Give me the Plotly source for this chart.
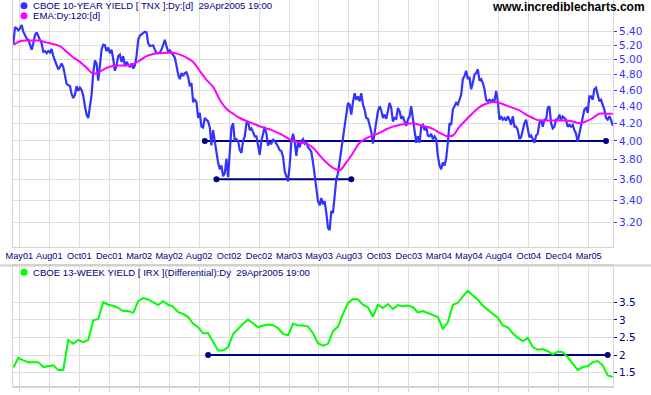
import plotly.graph_objects as go

# ---------------- data ----------------
# CBOE 10-year yield (TNX), one value per ~1.67 px step (every session-ish), in three stretches
tnx_part1 = [5.22, 5.47, 5.45, 5.42, 5.45, 5.5, 5.4, 5.35, 5.3, 5.28, 5.2, 5.14, 5.23, 5.35, 5.39, 5.33,
             5.28, 5.23, 5.11, 5.12, 5.09, 5.12, 5.1, 5.15, 5.05, 4.98, 4.92, 4.87, 4.9, 4.95, 4.9, 4.78,
             4.68, 4.66, 4.65, 4.55, 4.5, 4.54, 4.65, 4.59, 4.63, 4.6, 4.53, 4.4, 4.3, 4.26, 4.38, 4.54,
             4.82, 4.99, 4.95, 4.72, 4.92, 5.14, 5.21, 5.2, 5.12, 5.17, 5.09, 5.14, 5.01, 4.85, 4.92, 5.05,
             5.07, 4.97, 5.05, 4.92, 4.97, 4.93, 4.9, 4.95, 4.88, 4.92, 5.05, 5.28, 5.34, 5.36, 5.38, 5.4,
             5.39, 5.23, 5.19, 5.2, 5.2, 5.14, 5.09, 5.09, 5.1, 5.14, 5.23, 5.28, 5.19, 5.11, 5.13, 5.1,
             5.06, 5.03, 4.92, 4.8, 4.74, 4.82, 4.78, 4.82, 4.83, 4.77, 4.65, 4.69, 4.45, 4.48, 4.45, 4.26,
             4.32, 4.16, 4.15, 4.26, 4.24, 4.22, 4.15]
tnx_part2 = [3.95, 4.12, 4.02, 3.88, 3.77, 3.7, 3.74, 3.63, 3.66, 3.81, 3.62, 3.85, 4.15, 4.2, 4.0, 4.02,
             4.0, 3.9, 3.87, 4.0, 4.05, 4.2, 4.22, 4.12, 4.14, 4.1, 4.05, 4.05, 3.95, 3.85, 4.0, 4.1,
             4.16, 4.08, 3.95, 3.98, 3.97, 4.02, 4.0, 3.97, 3.94, 3.9, 3.89, 3.83, 3.68, 3.63, 3.58, 3.74,
             3.99, 4.08, 3.99, 3.84, 3.99, 3.93, 4.0, 4.02, 3.97, 3.99, 3.93, 3.91, 3.88, 3.77, 3.63, 3.53,
             3.39, 3.35, 3.42, 3.36, 3.39, 3.28, 3.15, 3.13, 3.3, 3.28, 3.47, 3.6, 3.66, 3.78, 3.92, 4.05,
             4.2, 4.32, 4.44, 4.42, 4.3, 4.45, 4.56, 4.48, 4.52, 4.46, 4.56, 4.42, 4.36, 4.26, 4.25, 4.18,
             4.1, 3.97, 4.08, 4.22, 4.34, 4.4, 4.35, 4.26, 4.3, 4.25, 4.33, 4.44, 4.38, 4.22, 4.26, 4.25,
             4.38, 4.34, 4.25, 4.28, 4.22, 4.17, 4.24]
tnx_part3 = [4.28, 4.4, 4.24, 4.08, 3.98, 4.05, 3.98, 4.16, 4.18, 4.12, 4.16, 4.06, 4.05, 4.08, 4.02, 4.05,
             4.02, 3.84, 3.74, 3.7, 3.77, 3.74, 3.81, 3.98, 4.2, 4.18, 4.36, 4.4, 4.44, 4.42, 4.48, 4.54,
             4.74, 4.78, 4.85, 4.74, 4.77, 4.61, 4.69, 4.8, 4.82, 4.87, 4.72, 4.74, 4.69, 4.61, 4.48, 4.46,
             4.48, 4.46, 4.48, 4.46, 4.59, 4.46, 4.24, 4.28, 4.24, 4.26, 4.23, 4.28, 4.24, 4.18, 4.28, 4.16,
             4.16, 4.12, 4.02, 4.04, 4.12, 4.2, 4.24, 4.12, 4.04, 4.06, 4.02, 3.98, 4.06, 4.08, 4.2, 4.24,
             4.16, 4.24, 4.24, 4.38, 4.4, 4.2, 4.14, 4.16, 4.24, 4.24, 4.3, 4.24, 4.28, 4.26, 4.24, 4.16,
             4.18, 4.16, 4.18, 4.12, 4.08, 3.99, 4.08, 4.16, 4.28, 4.36, 4.38, 4.32, 4.52, 4.52, 4.48, 4.61,
             4.63, 4.56, 4.46, 4.48, 4.42, 4.36, 4.26, 4.24, 4.28, 4.24, 4.17]
tnx = tnx_part1 + tnx_part2 + tnx_part3

# EMA:Dy:120, one value every EMA_STEP sessions
EMA_STEP = 4
ema120 = [5.21, 5.26, 5.27, 5.27, 5.27, 5.24, 5.22, 5.19, 5.11, 5.03, 4.97, 4.89, 4.81, 4.84, 4.89, 4.915,
          4.92, 4.92, 4.94, 4.99, 5.05, 5.08, 5.09, 5.095, 5.095, 5.07, 5.03, 4.97, 4.85, 4.73,
          4.64, 4.48, 4.37, 4.31, 4.26, 4.225, 4.195, 4.165, 4.14, 4.115, 4.08, 4.04, 4.0, 3.985, 3.97,
          3.925, 3.845, 3.77, 3.715, 3.69, 3.77, 3.87, 3.98, 4.03, 4.06, 4.09, 4.13, 4.16, 4.18, 4.19,
          4.2, 4.18, 4.16, 4.135, 4.09, 4.055, 4.06, 4.16, 4.24, 4.32, 4.39, 4.43, 4.45, 4.44, 4.41,
          4.38, 4.35, 4.3, 4.26, 4.23, 4.23, 4.23, 4.23, 4.23, 4.22, 4.2, 4.22, 4.26, 4.31, 4.31, 4.31]

# CBOE 13-week yield (IRX), one value every IRX_STEP sessions
IRX_STEP = 3
irx = [1.65, 1.92, 1.85, 1.80, 1.80, 1.80, 1.66, 1.68, 1.71, 1.58, 1.58, 2.43, 2.32, 2.43, 2.37, 2.43,
       2.98, 3.03, 3.50, 3.43, 3.40, 3.34, 3.25, 3.25, 3.20, 3.53, 3.62, 3.58, 3.51, 3.42, 3.53, 3.43,
       3.38, 3.22, 3.17, 3.08, 2.89, 2.79, 2.62, 2.62, 2.38, 2.13, 2.13, 2.23, 2.60, 2.75, 2.89, 3.01,
       2.91, 2.79, 2.84, 2.87, 2.85, 2.77, 2.60, 2.56, 2.89, 2.84, 2.84, 2.81, 2.62, 2.34, 2.27, 2.32,
       2.68, 2.81, 3.17, 3.48, 3.59, 3.58, 3.43, 3.36, 3.09, 3.43, 3.34, 3.45, 3.31, 3.42, 3.38, 3.41,
       3.36, 3.21, 3.25, 3.20, 3.14, 3.08, 2.75, 2.93, 3.43, 3.48, 3.67, 3.83, 3.69, 3.57, 3.41, 3.28,
       3.17, 3.06, 2.84, 2.79, 2.62, 2.49, 2.40, 2.49, 2.23, 2.15, 2.17, 2.11, 2.02, 2.10, 2.08, 1.94,
       1.77, 1.58, 1.66, 1.68, 1.80, 1.83, 1.71, 1.42, 1.38]

# trend lines (session index of end points, level)
tnx_line1_x = [115, 356]
tnx_line1_y = [4.00, 4.00]
tnx_line2_x = [122, 203]
tnx_line2_y = [3.60, 3.60]
irx_line_x = [117, 357]
irx_line_y = [2.00, 2.00]

month_labels = ["May01", "Aug01", "Oct01", "Dec01", "Mar02", "May02", "Aug02", "Oct02", "Dec02", "Mar03",
                "May03", "Aug03", "Oct03", "Dec03", "Mar04", "May04", "Aug04", "Oct04", "Dec04", "Mar05"]
tnx_ticks = [3.2, 3.4, 3.6, 3.8, 4.0, 4.2, 4.4, 4.6, 4.8, 5.0, 5.2, 5.4]
tnx_ticktext = ["3.20", "3.40", "3.60", "3.80", "4.00", "4.20", "4.40", "4.60", "4.80", "5.00", "5.20", "5.40"]
irx_ticks = [1.5, 2, 2.5, 3, 3.5]
irx_ticktext = ["1.5", "2", "2.5", "3", "3.5"]

# ---------------- figure ----------------
W, H = 651, 395
NAVY = "#000080"
GRID = "#dedede"
FONT = "Liberation Sans, Arial, sans-serif"
YFONT = "DejaVu Sans, Verdana, sans-serif"

n = len(tnx)
x_tnx = list(range(n))
x_ema = [i * EMA_STEP for i in range(len(ema120))]
x_irx = [i * IRX_STEP for i in range(len(irx))]
month_pos = [3.6 + 18 * k for k in range(len(month_labels))]

def px(x):
    return x / W

def py(y):
    return 1 - y / H

fig = go.Figure()

fig.add_trace(go.Scatter(x=tnx_line1_x, y=tnx_line1_y, mode="lines+markers",
                         line=dict(color=NAVY, width=2), marker=dict(color=NAVY, size=6),
                         xaxis="x", yaxis="y"))
fig.add_trace(go.Scatter(x=tnx_line2_x, y=tnx_line2_y, mode="lines+markers",
                         line=dict(color=NAVY, width=2), marker=dict(color=NAVY, size=6),
                         xaxis="x", yaxis="y"))
fig.add_trace(go.Scatter(x=x_tnx, y=tnx, mode="lines", line=dict(color="#3333ff", width=2.2),
                         xaxis="x", yaxis="y"))
fig.add_trace(go.Scatter(x=x_ema, y=ema120, mode="lines", line=dict(color="#ff00ff", width=2),
                         line_shape="spline", xaxis="x", yaxis="y"))
fig.add_trace(go.Scatter(x=irx_line_x, y=irx_line_y, mode="lines+markers",
                         line=dict(color=NAVY, width=2), marker=dict(color=NAVY, size=6),
                         xaxis="x2", yaxis="y2"))
fig.add_trace(go.Scatter(x=x_irx, y=irx, mode="lines", line=dict(color="#00ff00", width=2),
                         xaxis="x2", yaxis="y2"))

xr = [-0.2, n - 0.8]
dom_x = [px(13), px(613)]

fig.update_layout(
    width=W, height=H,
    margin=dict(l=0, r=0, t=0, b=0),
    paper_bgcolor="white", plot_bgcolor="white",
    showlegend=False,
    hovermode=False,
    font=dict(family=FONT, size=10, color=NAVY),
    xaxis=dict(domain=dom_x, range=xr, anchor="y", tickmode="array", tickvals=month_pos,
               ticktext=month_labels, tickangle=0, showgrid=True, gridcolor=GRID, gridwidth=1,
               showline=True, linecolor="#d4d4d4", linewidth=1, mirror=True,
               ticks="", tickfont=dict(family=FONT, size=9.2, color=NAVY), zeroline=False,
               automargin=False),
    yaxis=dict(domain=[py(247), 1], type="log", range=[0.47547, 0.77022], side="right",
               anchor="x", tickmode="array", tickvals=tnx_ticks, ticktext=tnx_ticktext,
               showgrid=True, gridcolor=GRID, gridwidth=1, showline=True, linecolor="#d4d4d4",
               mirror=True, ticks="outside", ticklen=3, tickcolor="#3333ff",
               tickfont=dict(family=YFONT, size=10.5, color="#3333ff"), zeroline=False,
               automargin=False),
    xaxis2=dict(domain=dom_x, range=xr, anchor="y2", tickmode="array", tickvals=month_pos,
                showticklabels=False, showgrid=True, gridcolor=GRID, gridwidth=1,
                showline=True, linecolor="#d4d4d4", linewidth=2, mirror=True,
                ticks="outside", ticklen=4, tickcolor="#d4d4d4", zeroline=False,
                automargin=False),
    yaxis2=dict(domain=[py(386), py(266)], range=[1.122, 4.531], side="right", anchor="x2",
                tickmode="array", tickvals=irx_ticks, ticktext=irx_ticktext,
                showgrid=True, gridcolor=GRID, gridwidth=1, showline=True, linecolor="#d4d4d4",
                mirror=True, ticks="outside", ticklen=3, tickcolor=NAVY,
                tickfont=dict(family=YFONT, size=10.5, color=NAVY), zeroline=False,
                automargin=False),
)

# separator between panels
fig.add_shape(type="line", xref="paper", yref="paper", x0=0, x1=1, y0=py(265.5), y1=py(265.5),
              line=dict(color="#d4d0c8", width=2))

# legend markers
def dot(cx, cy, color, r=3.5):
    fig.add_shape(type="circle", xref="paper", yref="paper",
                  x0=px(cx - r), x1=px(cx + r), y0=py(cy + r), y1=py(cy - r),
                  fillcolor=color, line=dict(color=color, width=0))

dot(24, 5.7, "#3333ff")
dot(24, 15.7, "#ff00ff")
dot(24, 272.3, "#00ff00")

def label(x, y, text, **kw):
    fig.add_annotation(xref="paper", yref="paper", x=px(x), y=py(y), text=text, showarrow=False,
                       xanchor=kw.pop("xanchor", "left"), yanchor="middle", **kw)

label(31, 5.7, "CBOE 10-YEAR YIELD [ TNX ]:Dy:[d]&nbsp;&nbsp;29Apr2005 19:00",
      font=dict(family=FONT, size=9.6, color=NAVY))
label(31, 15.7, "EMA:Dy:120:[d]", font=dict(family=FONT, size=9.6, color=NAVY))
label(31, 272.3, "CBOE 13-WEEK YIELD [ IRX ](Differential):Dy&nbsp;&nbsp;29Apr2005 19:00",
      font=dict(family=FONT, size=9.6, color=NAVY))
label(647, 7.5, "<b>www.incrediblecharts.com</b>", xanchor="right",
      font=dict(family=FONT, size=12, color="black"))

fig.write_html("out.html", config={"displayModeBar": False, "staticPlot": True},
               post_script="document.body.style.margin='0px';")
